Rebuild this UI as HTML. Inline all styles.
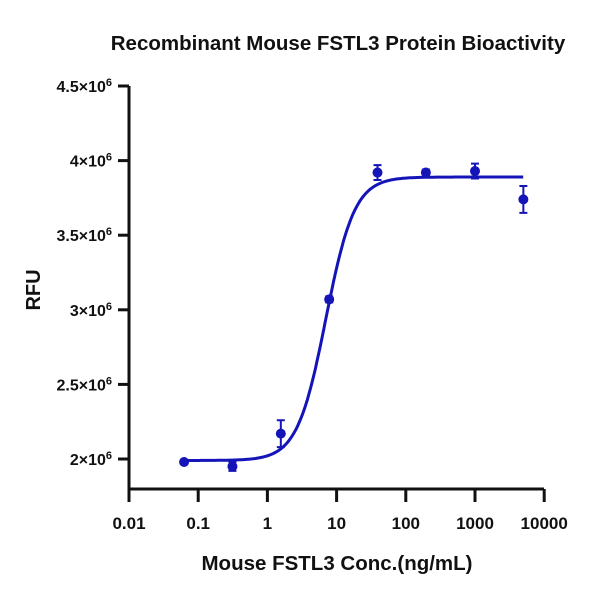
<!DOCTYPE html>
<html><head><meta charset="utf-8"><style>
html,body{margin:0;padding:0;background:#fff;width:600px;height:600px;overflow:hidden}
svg text{font-family:"Liberation Sans",Arial,sans-serif;font-weight:bold;fill:#111}
</style></head><body>
<svg id="s" width="600" height="600" viewBox="0 0 600 600">
<text x="338" y="50" font-size="20.5" text-anchor="middle">Recombinant Mouse FSTL3 Protein Bioactivity</text>
<text x="337" y="570" font-size="20.5" text-anchor="middle">Mouse FSTL3 Conc.(ng/mL)</text>
<text transform="translate(40,290) rotate(-90)" font-size="20" text-anchor="middle">RFU</text>
<g stroke="#111" stroke-width="3" fill="none">
<path d="M129,86 V489 H544"/>
</g>
<g id="ticks" stroke="#111" stroke-width="3"></g>
<g id="lab" font-size="16"></g>
<g id="dat"></g>
</svg>
<script>
const NS="http://www.w3.org/2000/svg";
const X=c=>129+69.2*(Math.log10(c)+2);
const Y=v=>459-(v-2e6)/0.5e6*74.6;
const t=document.getElementById('ticks'),l=document.getElementById('lab'),d=document.getElementById('dat');
function el(tag,a,p){const e=document.createElementNS(NS,tag);for(const k in a)e.setAttribute(k,a[k]);p.appendChild(e);return e;}
[2,2.5,3,3.5,4,4.5].forEach(v=>{const y=Y(v*1e6);el('line',{x1:118,x2:129,y1:y,y2:y},t);
const tx=el('text',{x:112,y:y+6,'text-anchor':'end'},l);tx.innerHTML=v+'×10<tspan font-size="11" dy="-6">6</tspan>';});
['0.01','0.1','1','10','100','1000','10000'].forEach((s,i)=>{const x=129+69.2*i;el('line',{x1:x,x2:x,y1:489,y2:502},t);
const tx=el('text',{x:x,y:529,'text-anchor':'middle','font-size':17},l);tx.textContent=s;});
const f=c=>1.99e6+(3.89e6-1.99e6)/(1+Math.pow(7.0/c,2.1));
let p='';for(let lc=Math.log10(0.0625);lc<=Math.log10(5000)+1e-9;lc+=0.02){const c=Math.pow(10,lc);p+=(p?'L':'M')+X(c).toFixed(1)+','+Y(f(c)).toFixed(1);}
el('path',{d:p,stroke:'#1414b8','stroke-width':3,fill:'none'},d);
const pts=[[0.0625,1.98e6,0.01e6],[0.3125,1.95e6,0.03e6],[1.5625,2.17e6,0.09e6],[7.8125,3.07e6,0.02e6],[39,3.92e6,0.05e6],[195,3.92e6,0.02e6],[1000,3.93e6,0.05e6],[5000,3.74e6,0.09e6]];
pts.forEach(([c,v,e])=>{const x=X(c),y=Y(v),y1=Y(v+e),y2=Y(v-e);
el('path',{d:`M${x},${y1}V${y2}M${x-4},${y1}H${x+4}M${x-4},${y2}H${x+4}`,stroke:'#1414b8','stroke-width':2},d);
el('circle',{cx:x,cy:y,r:5,fill:'#1414b8'},d);});
</script>
</body></html>
